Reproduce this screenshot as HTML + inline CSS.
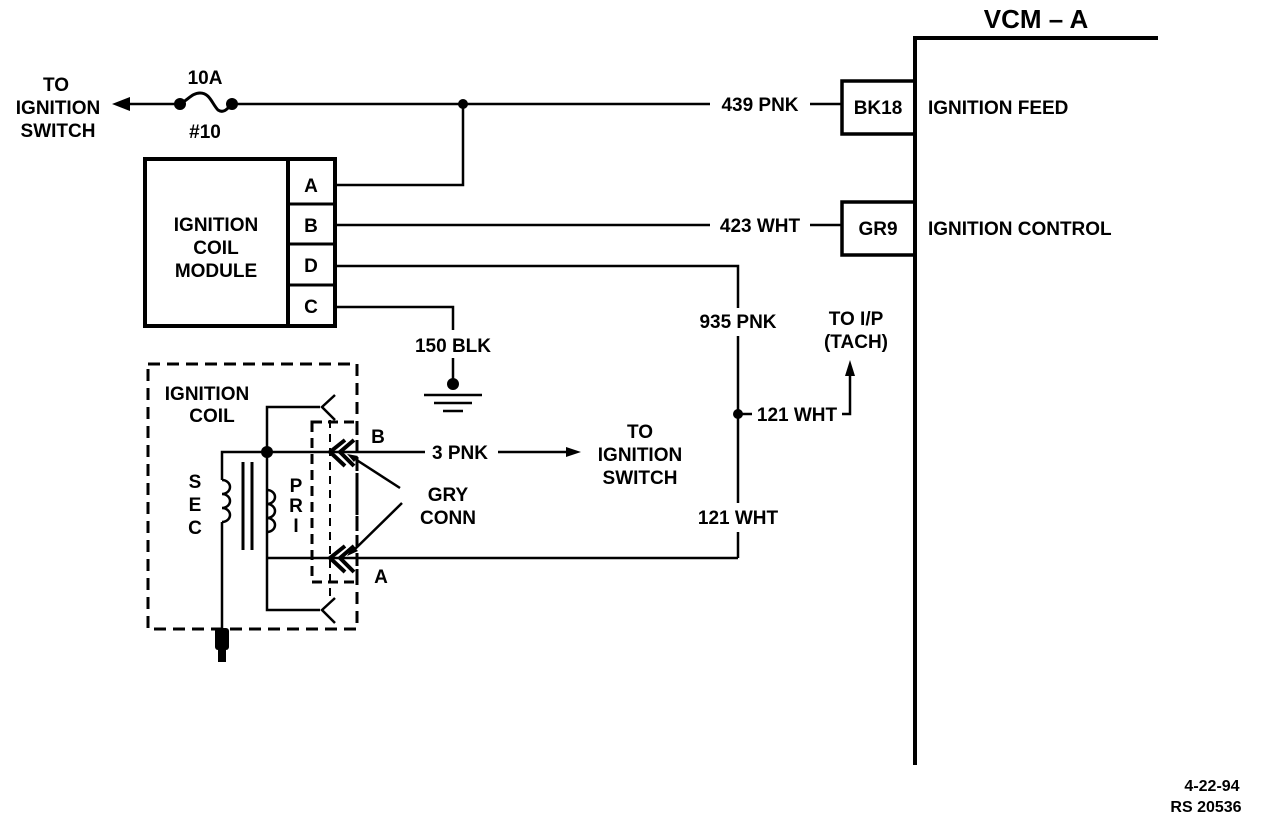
<!DOCTYPE html>
<html><head><style>
html,body{margin:0;padding:0;background:#fff;}
svg{display:block;}
text{font-family:"Liberation Sans",Arial,sans-serif;font-weight:bold;fill:#000;}
</style></head><body>
<svg width="1264" height="822" viewBox="0 0 1264 822" xmlns="http://www.w3.org/2000/svg">
<g stroke="#000" fill="none" stroke-width="2.5">
<!-- VCM -->
<polyline points="915,765 915,38 1158,38" stroke-width="4"/>
<rect x="842" y="81" width="73" height="53" stroke-width="3.5"/>
<rect x="842" y="202" width="73" height="53" stroke-width="3.5"/>
<!-- top wire -->
<line x1="118" y1="104" x2="180" y2="104"/>
<path d="M180,104 C188,100 192,93 200,93 C210,93 212,104 218,110 C224,114 228,108 232,104" stroke-width="3"/>
<line x1="232" y1="104" x2="710" y2="104"/>
<line x1="810" y1="104" x2="842" y2="104"/>
<!-- module -->
<rect x="145" y="159" width="190" height="167" stroke-width="4"/>
<line x1="288" y1="159" x2="288" y2="326" stroke-width="4"/>
<line x1="288" y1="204" x2="335" y2="204" stroke-width="3"/>
<line x1="288" y1="244" x2="335" y2="244" stroke-width="3"/>
<line x1="288" y1="285" x2="335" y2="285" stroke-width="3"/>
<polyline points="335,185 463,185 463,104"/>
<line x1="335" y1="225" x2="710" y2="225"/>
<line x1="810" y1="225" x2="842" y2="225"/>
<polyline points="335,266 738,266 738,308"/>
<line x1="738" y1="336" x2="738" y2="503"/>
<line x1="738" y1="532" x2="738" y2="558"/>
<polyline points="335,307 453,307 453,330"/>
<line x1="453" y1="358" x2="453" y2="383"/>
<line x1="424" y1="395" x2="482" y2="395"/>
<line x1="434" y1="403" x2="472" y2="403"/>
<line x1="443" y1="411" x2="463" y2="411"/>
<!-- tach -->
<line x1="738" y1="414" x2="752" y2="414"/>
<polyline points="842,414 850,414 850,372"/>
<!-- coil dashed -->
<rect x="148" y="364" width="209" height="265" stroke-dasharray="12,7" stroke-width="3"/>
<rect x="312" y="422" width="45" height="160" stroke-dasharray="10,6" stroke-width="3"/>
<line x1="330" y1="420" x2="330" y2="600" stroke-dasharray="8,6" stroke-width="2"/>
<!-- coil wiring -->
<polyline points="320,407 267,407 267,610 320,610"/>
<polyline points="335,395 322,407 335,420"/>
<polyline points="335,598 322,610 335,623"/>
<polyline points="340,452 222,452 222,480"/>
<path d="M222,480 a8,7 0 0 1 0,14 a8,7 0 0 1 0,14 a8,7 0 0 1 0,14"/>
<line x1="222" y1="522" x2="222" y2="635"/>
<path d="M267,490 a8,7 0 0 1 0,14 a8,7 0 0 1 0,14 a8,7 0 0 1 0,14"/>
<line x1="243" y1="462" x2="243" y2="550" stroke-width="3"/>
<line x1="252" y1="462" x2="252" y2="550" stroke-width="3"/>
<line x1="267" y1="558" x2="738" y2="558"/>
<line x1="340" y1="452" x2="425" y2="452"/>
<line x1="498" y1="452" x2="575" y2="452"/>
<!-- connectors -->
<polyline points="345,440 330,452 345,466" stroke-width="4"/>
<polyline points="354,440 340,452 354,466" stroke-width="4"/>
<polyline points="345,546 330,558 345,572" stroke-width="4"/>
<polyline points="354,546 340,558 354,572" stroke-width="4"/>
<line x1="400" y1="488" x2="352" y2="457"/>
<line x1="402" y1="503" x2="352" y2="552"/>
</g>
<g fill="#000">
<polygon points="112,104 130,97 130,111"/>
<circle cx="180" cy="104" r="6"/><circle cx="232" cy="104" r="6"/>
<circle cx="463" cy="104" r="5"/>
<circle cx="453" cy="384" r="6"/>
<circle cx="738" cy="414" r="5"/>
<circle cx="267" cy="452" r="6"/>
<polygon points="850,360 845,376 855,376"/>
<polygon points="581,452 566,447 566,457"/>
<polygon points="347,454 358,456 354,462"/>
<polygon points="347,556 353,546 358,551"/>
<rect x="215" y="628" width="14" height="22" rx="3"/>
<rect x="218" y="648" width="8" height="14"/>
</g>
<g font-size="19" stroke="none">
<text x="1036" y="28" text-anchor="middle" font-size="26">VCM – A</text>
<text x="878" y="114" text-anchor="middle">BK18</text>
<text x="878" y="235" text-anchor="middle">GR9</text>
<text x="928" y="114">IGNITION FEED</text>
<text x="928" y="235">IGNITION CONTROL</text>
<text x="760" y="111" text-anchor="middle">439 PNK</text>
<text x="760" y="232" text-anchor="middle">423 WHT</text>
<text x="738" y="328" text-anchor="middle">935 PNK</text>
<text x="738" y="524" text-anchor="middle">121 WHT</text>
<text x="797" y="421" text-anchor="middle">121 WHT</text>
<text x="856" y="325" text-anchor="middle">TO I/P</text>
<text x="856" y="348" text-anchor="middle">(TACH)</text>
<text x="453" y="352" text-anchor="middle">150 BLK</text>
<text x="460" y="459" text-anchor="middle">3 PNK</text>
<text x="640" y="438" text-anchor="middle">TO</text>
<text x="640" y="461" text-anchor="middle">IGNITION</text>
<text x="640" y="484" text-anchor="middle">SWITCH</text>
<text x="448" y="501" text-anchor="middle">GRY</text>
<text x="448" y="524" text-anchor="middle">CONN</text>
<text x="378" y="443" text-anchor="middle">B</text>
<text x="381" y="583" text-anchor="middle">A</text>
<text x="207" y="400" text-anchor="middle">IGNITION</text>
<text x="212" y="422" text-anchor="middle">COIL</text>
<text x="216" y="231" text-anchor="middle">IGNITION</text>
<text x="216" y="254" text-anchor="middle">COIL</text>
<text x="216" y="277" text-anchor="middle">MODULE</text>
<text x="311" y="192" text-anchor="middle">A</text>
<text x="311" y="232" text-anchor="middle">B</text>
<text x="311" y="272" text-anchor="middle">D</text>
<text x="311" y="313" text-anchor="middle">C</text>
<text x="296" y="492" text-anchor="middle">P</text>
<text x="296" y="512" text-anchor="middle">R</text>
<text x="296" y="532" text-anchor="middle">I</text>
<text x="195" y="488" text-anchor="middle">S</text>
<text x="195" y="511" text-anchor="middle">E</text>
<text x="195" y="534" text-anchor="middle">C</text>
<text x="56" y="91" text-anchor="middle">TO</text>
<text x="58" y="114" text-anchor="middle">IGNITION</text>
<text x="58" y="137" text-anchor="middle">SWITCH</text>
<text x="205" y="84" text-anchor="middle">10A</text>
<text x="205" y="138" text-anchor="middle">#10</text>
<text x="1212" y="791" text-anchor="middle" font-size="16">4-22-94</text>
<text x="1206" y="812" text-anchor="middle" font-size="16">RS 20536</text>
</g>
</svg>
</body></html>
